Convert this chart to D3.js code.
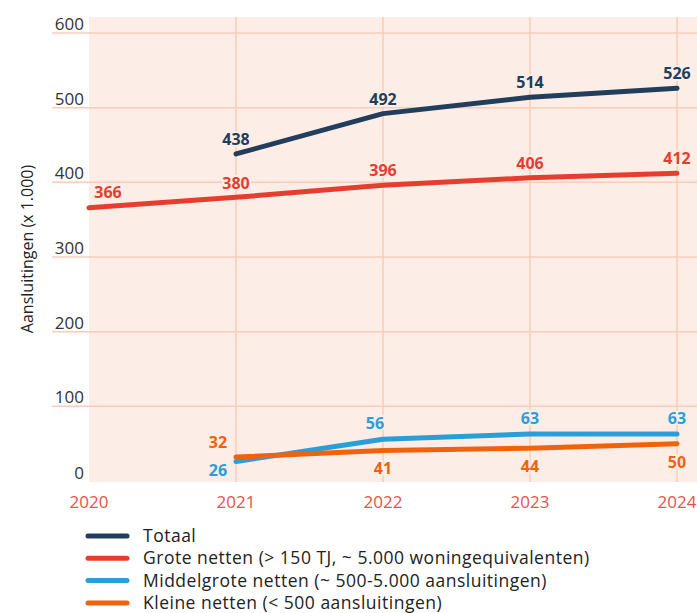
<!DOCTYPE html>
<html>
<head>
<meta charset="utf-8">
<script src="https://cdn.jsdelivr.net/npm/d3@7"></script>
<style>
  body { margin: 0; background: #fff; font-family: "Open Sans", Lato, sans-serif; }
</style>
</head>
<body>
<div id="chart"></div>
<script>
var years = [2020, 2021, 2022, 2023, 2024];
var yTicks = [0, 100, 200, 300, 400, 500, 600];

var totaal = [null, 438, 492, 514, 526];
var grote = [366, 380, 396, 406, 412];
var middelgrote = [null, 26, 56, 63, 63];
var kleine = [null, 32, 41, 44, 50];

var seriesNames = [
  "Totaal",
  "Grote netten (> 150 TJ, ~ 5.000 woningequivalenten)",
  "Middelgrote netten (~ 500-5.000 aansluitingen)",
  "Kleine netten (< 500 aansluitingen)"
];
var colors = ["#233d5c", "#e53d30", "#2b9ed8", "#ef630f"];

(function() {
  var width = 697, height = 613;
  var bg = "#fcede7", grid = "#f8cdb9";

  var svg = d3.select("#chart").append("svg")
    .attr("width", width)
    .attr("height", height);

  var x = d3.scaleLinear().domain([2020, 2024]).range([89, 677]);
  var y = d3.scaleLinear().domain([0, 600]).range([481, 33]);

  // plot background
  svg.append("rect")
    .attr("x", 89).attr("y", 17)
    .attr("width", width - 89).attr("height", 482 - 17)
    .attr("fill", bg);

  // vertical grid
  svg.selectAll(".vgrid").data(years.slice(1)).enter().append("line")
    .attr("x1", d => x(d)).attr("x2", d => x(d))
    .attr("y1", 17).attr("y2", 482)
    .attr("stroke", grid).attr("stroke-width", 1.5);

  // horizontal grid + tick labels
  svg.selectAll(".hgrid").data(yTicks.filter(d => d > 0)).enter().append("line")
    .attr("x1", 52).attr("x2", width)
    .attr("y1", d => y(d)).attr("y2", d => y(d))
    .attr("stroke", grid).attr("stroke-width", 1.5);

  svg.selectAll(".ytick").data(yTicks).enter().append("text")
    .attr("x", 84)
    .attr("y", d => d === 0 ? y(d) - 2 : y(d) - 3)
    .attr("text-anchor", "end")
    .attr("font-size", 17)
    .attr("fill", "#333")
    .text(d => d);

  svg.selectAll(".xtick").data(years).enter().append("text")
    .attr("x", d => x(d))
    .attr("y", 508)
    .attr("text-anchor", "middle")
    .attr("font-size", 17)
    .attr("fill", "#e8524a")
    .text(d => d);

  svg.append("text")
    .attr("transform", "translate(33,249) rotate(-90)")
    .attr("text-anchor", "middle")
    .attr("font-size", 16)
    .attr("fill", "#222")
    .text("Aansluitingen (x 1.000)");

  var allSeries = [totaal, grote, middelgrote, kleine];

  var line = d3.line()
    .defined(d => d.v != null)
    .x(d => x(d.year))
    .y(d => y(d.v));

  // orange drawn over blue
  var drawOrder = [1, 0, 2, 3];
  drawOrder.forEach(function(i) {
    var pts = years.map((yr, j) => ({ year: yr, v: allSeries[i][j] }));
    svg.append("path")
      .datum(pts)
      .attr("d", line)
      .attr("fill", "none")
      .attr("stroke", colors[i])
      .attr("stroke-width", 5)
      .attr("stroke-linecap", "round")
      .attr("stroke-linejoin", "round");
  });

  // label offsets per series and year [dx, dy]
  var labelPos = [
    [[0, 0], [0, -9], [0, -9], [0, -9], [0, -9]],
    [[19, -10], [0, -8], [0, -9], [0, -9], [0, -9]],
    [[0, 0], [-18, 14], [-8, -10], [0, -10], [0, -10]],
    [[0, 0], [-18, -9], [0, 24], [0, 24], [0, 24]]
  ];

  allSeries.forEach(function(s, i) {
    years.forEach(function(yr, j) {
      if (s[j] == null) return;
      svg.append("text")
        .attr("x", x(yr) + labelPos[i][j][0])
        .attr("y", y(s[j]) + labelPos[i][j][1])
        .attr("text-anchor", "middle")
        .attr("font-size", 16)
        .attr("font-weight", "bold")
        .attr("fill", colors[i])
        .attr("stroke", bg)
        .attr("stroke-width", 4)
        .attr("paint-order", "stroke")
        .text(s[j]);
    });
  });

  // legend
  var legend = svg.selectAll(".legend").data(seriesNames).enter().append("g")
    .attr("transform", (d, i) => "translate(0," + (536 + i * 22.3) + ")");

  legend.append("line")
    .attr("x1", 88).attr("x2", 127)
    .attr("stroke", (d, i) => colors[i])
    .attr("stroke-width", 5)
    .attr("stroke-linecap", "round");

  legend.append("text")
    .attr("x", 143).attr("y", 6)
    .attr("font-size", 17.5)
    .attr("letter-spacing", 0.5)
    .attr("fill", "#222")
    .text(d => d);
})();
</script>
</body>
</html>
